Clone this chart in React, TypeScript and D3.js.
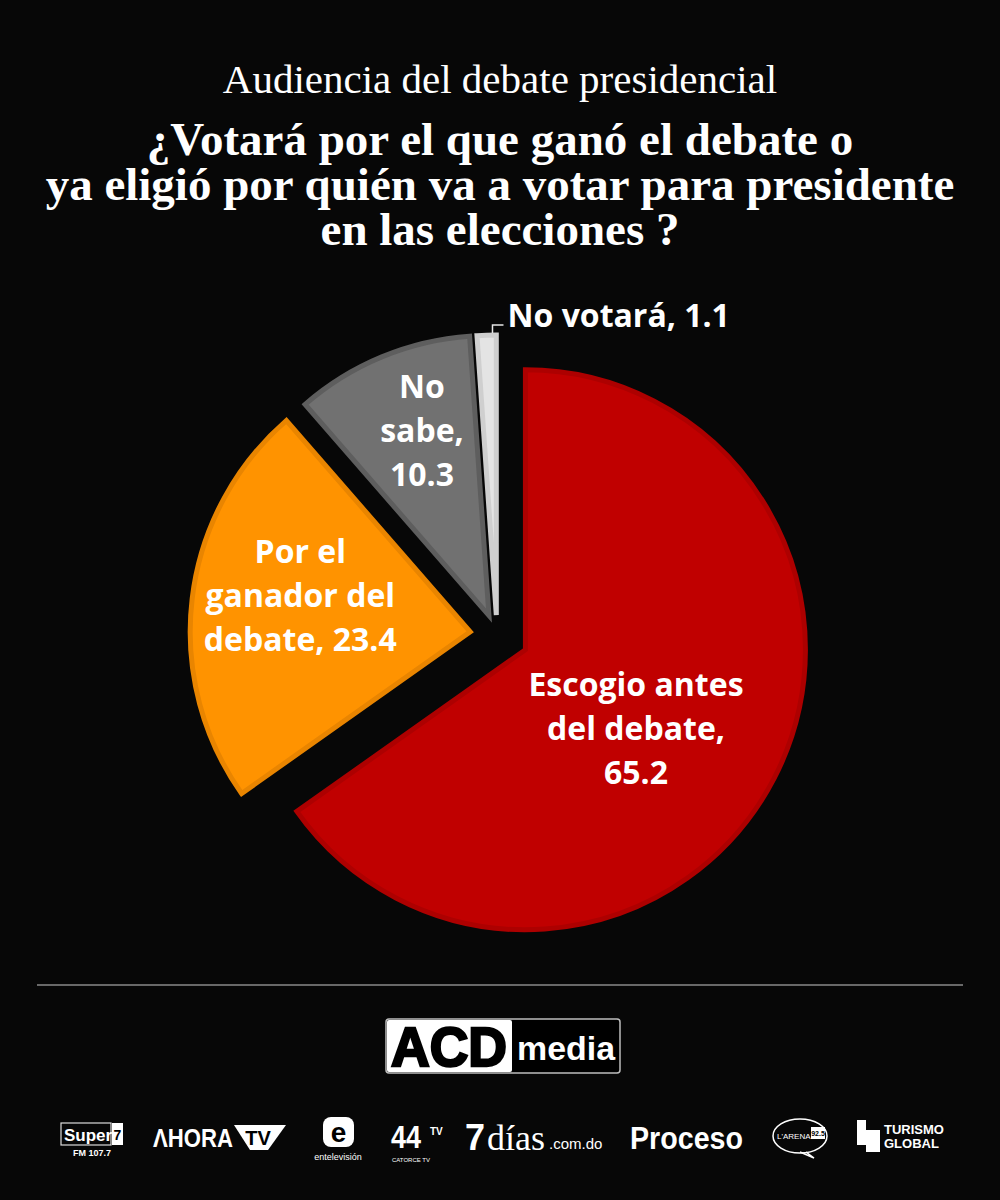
import React from "react";
import * as d3 from "d3";

const categories = [
  "Escogio antes del debate",
  "Por el ganador del debate",
  "No sabe",
  "No votará",
];
const values = [65.2, 23.4, 10.3, 1.1];
const labelLines = [
  ["Escogio antes", "del debate,", "65.2"],
  ["Por el", "ganador del", "debate, 23.4"],
  ["No", "sabe,", "10.3"],
  ["No votará, 1.1"],
];
const titleLines = [
  "¿Votará por el que ganó el debate o",
  "ya eligió por quién va a votar para presidente",
  "en las elecciones ?",
];
const sponsorNames = [
  "Super 7 FM 107.7",
  "AHORA TV",
  "entelevisión",
  "Catorce TV",
  "7días.com.do",
  "Proceso",
  "L'ARENA 92.5",
  "Turismo Global",
];

const fills = ["#c00000", "#ff9300", "#717171", "#e4e4e4"];
const strokes = ["#ad0000", "#e98500", "#5e5e5e", "#cfcfcf"];
const explode = [32, 27, 21, 20];
const labelAngleShift = [8.3, 5, 2.5, 0];
const labelRadiusFrac = [0.486, 0.62, 0.7, 0];

const W = 1000;
const H = 1200;
const CX = 497;
const CY = 635;
const R = 280;

export default function App() {
  const pie = d3
    .pie<number>()
    .sort(null)
    .value((d) => d)
    .startAngle(0)
    .endAngle(2 * Math.PI);
  const arcs = pie(values);
  const arcGen = d3.arc<d3.PieArcDatum<number>>().innerRadius(0).outerRadius(R);

  const labelFont = "'Open Sans', 'Noto Sans', sans-serif";

  return (
    <svg
      width={W}
      height={H}
      viewBox={`0 0 ${W} ${H}`}
      style={{ display: "block", position: "absolute", left: 0, top: 0 }}
    >
      <rect x={0} y={0} width={W} height={H} fill="#070707" />

      {/* Titles */}
      <text
        x={500}
        y={93}
        textAnchor="middle"
        fill="#ffffff"
        fontFamily="'Liberation Serif', 'Times New Roman', serif"
        fontSize={41}
      >
        Audiencia del debate presidencial
      </text>
      <text
        textAnchor="middle"
        fill="#ffffff"
        fontFamily="'Liberation Serif', 'Times New Roman', serif"
        fontWeight={700}
        fontSize={47}
      >
        {titleLines.map((t, i) => (
          <tspan key={i} x={500} y={155 + i * 45}>
            {t}
          </tspan>
        ))}
      </text>

      {/* Pie */}
      {arcs.map((a, i) => {
        const mid = (a.startAngle + a.endAngle) / 2;
        const ox = CX + explode[i] * Math.sin(mid);
        const oy = CY - explode[i] * Math.cos(mid);
        return (
          <g key={categories[i]} transform={`translate(${ox},${oy})`}>
            <path
              d={arcGen(a) || ""}
              fill={fills[i]}
              stroke={strokes[i]}
              strokeWidth={5}
              strokeLinejoin="miter"
            />
          </g>
        );
      })}

      {/* Labels */}
      {arcs.map((a, i) => {
        const mid = (a.startAngle + a.endAngle) / 2;
        const ox = CX + explode[i] * Math.sin(mid);
        const oy = CY - explode[i] * Math.cos(mid);
        if (i === 3) {
          const ang = a.endAngle - 0.01;
          const px = ox + (R + 2) * Math.sin(ang) - 1;
          const py = oy - (R + 2) * Math.cos(ang);
          const ly = py - 8;
          return (
            <g key={"l" + i}>
              <path
                d={`M${px},${py} L${px},${ly} L${px + 11},${ly}`}
                fill="none"
                stroke="#e6e6e6"
                strokeWidth={1.5}
              />
              <text
                x={px + 15}
                y={ly + 2}
                fill="#ffffff"
                fontFamily={labelFont}
                fontWeight={700}
                fontSize={32}
              >
                {labelLines[i][0]}
              </text>
            </g>
          );
        }
        const ang = mid + (labelAngleShift[i] * Math.PI) / 180;
        const lx = ox + labelRadiusFrac[i] * R * Math.sin(ang);
        const ly = oy - labelRadiusFrac[i] * R * Math.cos(ang);
        const lines = labelLines[i];
        const lh = 44;
        const y0 = ly - ((lines.length - 1) * lh) / 2 + 11;
        return (
          <text
            key={"l" + i}
            textAnchor="middle"
            fill="#ffffff"
            fontFamily={labelFont}
            fontWeight={700}
            fontSize={32}
          >
            {lines.map((t, j) => (
              <tspan key={j} x={lx} y={y0 + j * lh}>
                {t}
              </tspan>
            ))}
          </text>
        );
      })}

      {/* Divider */}
      <line x1={37} x2={963} y1={985} y2={985} stroke="#8a8a8a" strokeWidth={1.5} />

      {/* ACD media logo */}
      <g>
        <rect x={386} y={1019} width={234} height={54} rx={3} fill="#000" stroke="#bdbdbd" strokeWidth={1.5} />
        <rect x={387} y={1020} width={125} height={52} rx={2} fill="#ffffff" />
        <text
          x={449}
          y={1066}
          textAnchor="middle"
          fill="#000"
          stroke="#000"
          strokeWidth={2.5}
          fontFamily="'Liberation Sans', Arial, sans-serif"
          fontWeight={700}
          fontSize={56}
          textLength={116}
          lengthAdjust="spacingAndGlyphs"
        >
          ACD
        </text>
        <text
          x={566}
          y={1060}
          textAnchor="middle"
          fill="#fff"
          fontFamily="'Liberation Sans', Arial, sans-serif"
          fontWeight={700}
          fontSize={33}
          textLength={98}
          lengthAdjust="spacingAndGlyphs"
        >
          media
        </text>
      </g>

      {/* Sponsor logos (text renderings) */}
      <g fontFamily="'Liberation Sans', Arial, sans-serif" fill="#fff">
        {/* Super 7 */}
        <rect x={61} y={1123} width={50} height={22} fill="none" stroke="#ddd" strokeWidth={1.2} />
        <text x={64} y={1141} fontSize={17} fontWeight={700} fill="#fff">Super</text>
        <rect x={112} y={1123} width={11} height={22} fill="#fff" />
        <text x={117.5} y={1140} fontSize={14} fontWeight={700} fill="#000" textAnchor="middle">7</text>
        <text x={92} y={1156} fontSize={9} fontWeight={700} textAnchor="middle">FM 107.7</text>

        {/* AHORA TV */}
        <text x={153} y={1147} fontSize={25} fontWeight={700} textLength={80} lengthAdjust="spacingAndGlyphs">ΛHORA</text>
        <path d="M234,1125 L286,1125 L268,1150 L250,1150 Z" fill="#fff" />
        <text x={258} y={1145} fontSize={20} fontWeight={700} fill="#000" textAnchor="middle">TV</text>

        {/* entelevision */}
        <rect x={323} y={1117} width={31} height={30} rx={8} fill="#fff" />
        <text x={338.5} y={1142} fontSize={28} fontWeight={700} fill="#000" textAnchor="middle">e</text>
        <text x={338} y={1160} fontSize={9} textAnchor="middle">entelevisión</text>

        {/* Catorce TV */}
        <text x={391} y={1148} fontSize={32} fontWeight={700} textLength={30} lengthAdjust="spacingAndGlyphs">44</text>
        <text x={430} y={1135} fontSize={10} fontWeight={700}>TV</text>
        <text x={411} y={1162} fontSize={6} textAnchor="middle">CATORCE TV</text>

        {/* 7dias */}
        <text x={465} y={1150} fontSize={36} fontWeight={700}>7</text>
        <text x={487} y={1150} fontSize={36} fontFamily="'Liberation Serif', serif">días</text>
        <text x={549} y={1149} fontSize={15}>.com.do</text>

        {/* Proceso */}
        <text x={630} y={1149} fontSize={31} fontWeight={700} textLength={113} lengthAdjust="spacingAndGlyphs">Proceso</text>

        {/* L'ARENA */}
        <ellipse cx={800} cy={1136} rx={27} ry={17} fill="none" stroke="#fff" strokeWidth={1.5} />
        <path d="M806,1152 L814,1158 L800,1152" fill="none" stroke="#fff" strokeWidth={1.5} />
        <text x={777} y={1139} fontSize={8}>L'ARENA</text>
        <rect x={811} y={1127} width={14} height={12} fill="#fff" />
        <text x={818} y={1136} fontSize={7} fontWeight={700} fill="#000" textAnchor="middle">92.5</text>

        {/* Turismo Global */}
        <path d="M857,1120 L866,1120 L866,1130 L880,1130 L880,1152 L866,1152 L866,1145 L857,1145 Z" fill="#fff" />
        <text x={884} y={1134} fontSize={13} fontWeight={700}>TURISMO</text>
        <text x={884} y={1148} fontSize={13} fontWeight={700}>GLOBAL</text>
      </g>
      <desc>{sponsorNames.join(", ")}</desc>
    </svg>
  );
}
